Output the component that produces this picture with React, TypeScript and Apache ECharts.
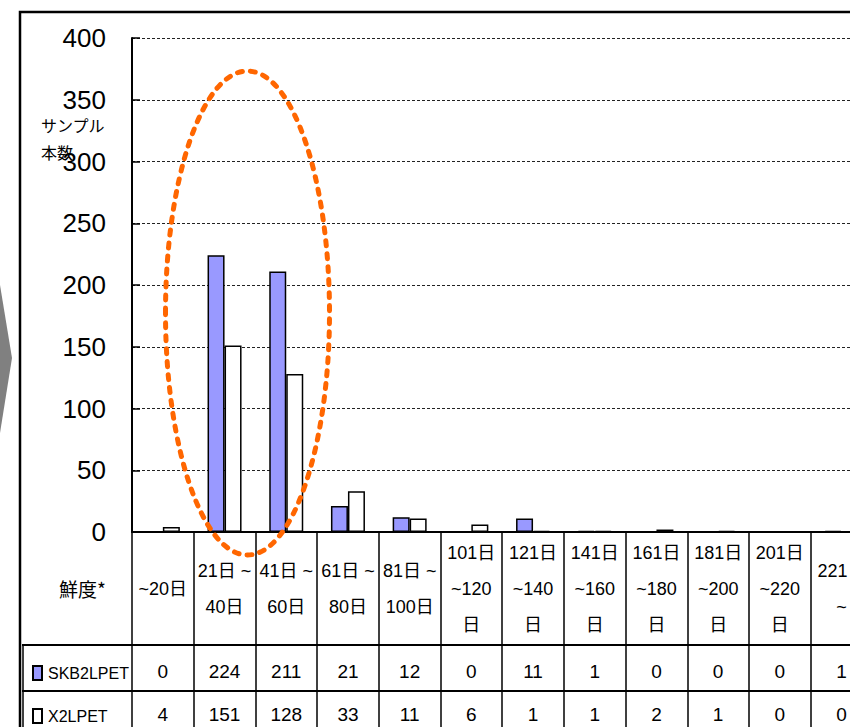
import React, { useEffect, useRef } from "react";
import * as echarts from "echarts";

const categories = [
  "~20日",
  "21日 ~\n40日",
  "41日 ~\n60日",
  "61日 ~\n80日",
  "81日 ~\n100日",
  "101日\n~120\n日",
  "121日\n~140\n日",
  "141日\n~160\n日",
  "161日\n~180\n日",
  "181日\n~200\n日",
  "201日\n~220\n日",
  "221日\n~",
];
const skb2lpet = [0, 224, 211, 21, 12, 0, 11, 1, 0, 0, 0, 1];
const x2lpet = [4, 151, 128, 33, 11, 6, 1, 1, 2, 1, 0, 0];
const yTicks = [0, 50, 100, 150, 200, 250, 300, 350, 400];

const NARROW = "Liberation Sans Narrow, Liberation Sans, Arial, Noto Sans CJK JP, sans-serif";
const CJK = "Noto Sans CJK JP, sans-serif";

export default function App() {
  const ref = useRef<HTMLDivElement>(null);
  useEffect(() => {
    if (!ref.current) return;
    const chart = echarts.init(ref.current, null, { renderer: "svg" });
    const gridLeft = 132;
    const gridTop = 38;
    const chartH = 780;
    const catW = 61.7;
    const gridW = catW * categories.length;
    const zeroY = 532;
    const row1 = 645;
    const row2 = 691;
    const tableAxis = (offset: number, labels: string[], tickLen: number, margin: number) => ({
      type: "category",
      data: labels,
      position: "bottom",
      offset,
      gridIndex: 0,
      axisLine: { show: true, lineStyle: { color: "#000", width: 2 } },
      axisTick: { show: true, alignWithLabel: false, length: tickLen, lineStyle: { color: "#000", width: 1.5 } },
      axisLabel: {
        show: true,
        interval: 0,
        margin,
        verticalAlign: "middle",
        color: "#000",
        fontSize: 19,
        fontFamily: NARROW,
      },
      splitLine: { show: false },
    });
    chart.setOption({
      animation: false,
      backgroundColor: "#fff",
      title: [
        {
          text: "サンプル\n本数",
          left: 36,
          top: 106,
          textStyle: { fontSize: 16, lineHeight: 27, fontWeight: "normal", color: "#000", fontFamily: CJK },
        },
        {
          text: "鮮度*",
          left: 54,
          top: 574,
          textStyle: { fontSize: 19, fontWeight: "normal", color: "#000", fontFamily: CJK },
        },
      ],
      legend: {
        orient: "vertical",
        left: 27,
        top: 660,
        itemWidth: 9,
        itemHeight: 14,
        itemGap: 27,
        icon: "rect",
        textStyle: { fontSize: 16, color: "#000", fontFamily: NARROW, padding: [0, 0, 0, 1] },
        data: ["SKB2LPET", "X2LPET"],
      },
      grid: {
        left: gridLeft,
        top: gridTop,
        width: gridW,
        height: zeroY - gridTop,
        containLabel: false,
      },
      xAxis: [
        {
          type: "category",
          data: categories,
          position: "bottom",
          axisLine: { show: true, lineStyle: { color: "#000", width: 2 } },
          axisTick: { show: true, alignWithLabel: false, length: row1 - zeroY, lineStyle: { color: "#000", width: 1.5 } },
          axisLabel: {
            interval: 0,
            margin: 57,
            verticalAlign: "middle",
            lineHeight: 36,
            color: "#000",
            fontSize: 18,
            fontFamily: NARROW,
          },
          splitLine: { show: false },
        },
        tableAxis(row1 - zeroY, skb2lpet.map(String), row2 - row1, 26),
        tableAxis(row2 - zeroY, x2lpet.map(String), 120, 23),
      ],
      yAxis: {
        type: "value",
        min: 0,
        max: 400,
        interval: 50,
        axisLine: { show: true, lineStyle: { color: "#000", width: 2 } },
        axisTick: { show: true, inside: true, length: 8, lineStyle: { color: "#000", width: 1.5 } },
        axisLabel: {
          margin: 26,
          color: "#000",
          fontSize: 26,
          fontFamily: NARROW,
          customValues: yTicks,
        },
        splitLine: { show: true, lineStyle: { color: "#222", width: 1, type: [3, 2] } },
      },
      series: [
        {
          name: "SKB2LPET",
          type: "bar",
          data: skb2lpet,
          barWidth: 17,
          barGap: "0%",
          itemStyle: { color: "#9999FF", borderColor: "#000", borderWidth: 1.5 },
        },
        {
          name: "X2LPET",
          type: "bar",
          data: x2lpet,
          barWidth: 17,
          barGap: "0%",
          itemStyle: { color: "#FFFFFF", borderColor: "#000", borderWidth: 1.5 },
        },
      ],
      graphic: [
        {
          type: "rect",
          shape: { x: 20, y: 12, width: 1000, height: 1000 },
          style: { fill: "none", stroke: "#000", lineWidth: 2.5 },
          z: 0,
          silent: true,
        },
        {
          type: "polygon",
          shape: { points: [[0, 285], [12, 358], [0, 433]] },
          style: { fill: "#808080" },
          silent: true,
        },
        {
          type: "line",
          shape: { x1: 22, y1: row1, x2: gridLeft, y2: row1 },
          style: { stroke: "#000", lineWidth: 2 },
          silent: true,
        },
        {
          type: "line",
          shape: { x1: 22, y1: row2, x2: gridLeft, y2: row2 },
          style: { stroke: "#000", lineWidth: 2 },
          silent: true,
        },
        {
          type: "line",
          shape: { x1: 23, y1: row1, x2: 23, y2: chartH },
          style: { stroke: "#000", lineWidth: 1.5 },
          silent: true,
        },
        {
          type: "ellipse",
          shape: { cx: 247.5, cy: 313, rx: 82, ry: 242 },
          style: { fill: "none", stroke: "#FF6600", lineWidth: 5, lineDash: [5, 8], lineCap: "round" },
          z: 100,
          silent: true,
        },
      ],
    });
    return () => chart.dispose();
  }, []);
  return (
    <div style={{ position: "fixed", left: 0, top: 0, width: 850, height: 727, overflow: "hidden", background: "#fff" }}>
      <div ref={ref} style={{ width: 920, height: 780 }} />
    </div>
  );
}
